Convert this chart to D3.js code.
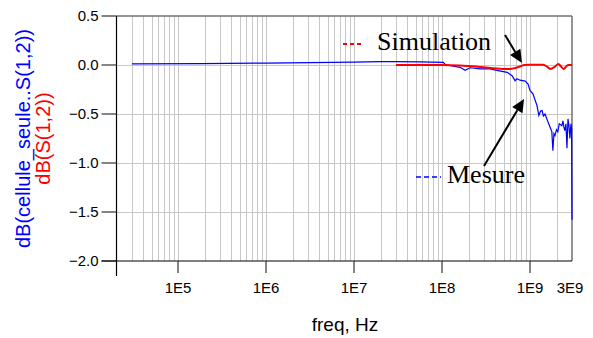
<!DOCTYPE html>
<html>
<head>
<meta charset="utf-8">
<script src="https://cdn.jsdelivr.net/npm/d3@7"></script>
<style>
  body { margin: 0; background: #fff; }
  svg { display: block; }
  .tick-label { font-family: "Liberation Sans", Arial, sans-serif; font-size: 15px; fill: #000; }
  .legend-text { font-family: "Liberation Serif", "Times New Roman", serif; font-size: 26px; fill: #000; }
</style>
</head>
<body>
<div id="chart"></div>
<script>
// measured trace (blue)
let mesureFreq = [3e4, 1.8e5, 1e6, 1e7, 2e7, 3e7, 5.7e7, 1.03e8, 1.1e8, 1.6e8, 1.83e8, 2.09e8,
    2.71e8, 3.52e8, 4.2e8, 5.5e8, 6.25e8, 6.76e8, 7.1e8, 7.7e8, 8.8e8, 9.5e8, 1e9, 1.08e9,
    1.2e9, 1.26e9, 1.32e9, 1.37e9, 1.42e9, 1.48e9, 1.54e9, 1.6e9, 1.7e9, 1.77e9, 1.82e9, 1.87e9,
    1.92e9, 2.0e9, 2.07e9, 2.15e9, 2.3e9, 2.37e9, 2.43e9, 2.49e9, 2.56e9, 2.63e9, 2.7e9,
    2.77e9, 2.84e9, 2.92e9, 2.97e9, 3e9];
let mesureDb = [0.012, 0.015, 0.02, 0.03, 0.034, 0.034, 0.032, 0.027, 0.003, -0.024, -0.054, -0.028,
    -0.04, -0.04, -0.054, -0.075, -0.11, -0.16, -0.14, -0.155, -0.165, -0.195, -0.26, -0.295,
    -0.415, -0.515, -0.47, -0.465, -0.52, -0.5, -0.54, -0.58, -0.64, -0.68, -0.875, -0.7,
    -0.72, -0.66, -0.68, -0.6, -0.62, -0.57, -0.64, -0.67, -0.6, -0.85, -0.55,
    -0.62, -0.75, -0.6, -0.65, -1.58];

// simulated trace (red)
let simFreq = [3e7, 1e8, 1.6e8, 2.7e8, 4.9e8, 5.9e8, 6.8e8, 7.7e8, 8.6e8, 1e9, 1.4e9,
    1.55e9, 1.7e9, 1.9e9, 2.1e9, 2.25e9, 2.4e9, 2.55e9, 2.7e9, 3e9];
let simDb = [0.0, 0.0, -0.006, -0.02, -0.04, -0.04, -0.03, -0.015, 0.0, 0.003, 0.003,
    -0.015, -0.04, -0.02, 0.01, -0.015, -0.04, -0.02, 0.0, 0.0];

let yTicks = [0.5, 0.0, -0.5, -1.0, -1.5, -2.0];
let xTicks = [1e5, 1e6, 1e7, 1e8, 1e9, 3e9];
let xTickLabels = ["1E5", "1E6", "1E7", "1E8", "1E9", "3E9"];

let width = 593, height = 338;
let plotLeft = 116.5, plotRight = 572, plotTop = 16, plotBottom = 261;

let svg = d3.select("#chart").append("svg")
    .attr("width", width)
    .attr("height", height);

let x = d3.scaleLog().domain([2e4, 3e9]).range([plotLeft, plotRight]);
let y = d3.scaleLinear().domain([-2, 0.5]).range([plotBottom, plotTop]);

// minor grid lines 1..9 per decade
let gridX = [];
for (let e = 4; e <= 9; e++) {
    for (let m = 1; m <= 9; m++) {
        let f = m * Math.pow(10, e);
        if (f > 2e4 && f < 3e9) gridX.push(f);
    }
}
svg.append("g").selectAll("line")
    .data(gridX)
    .enter().append("line")
    .attr("x1", d => Math.round(x(d)) + 0.5)
    .attr("x2", d => Math.round(x(d)) + 0.5)
    .attr("y1", plotTop)
    .attr("y2", plotBottom)
    .attr("stroke", "#c8c8c8")
    .attr("stroke-width", 1);

svg.append("g").selectAll("line")
    .data(yTicks.filter(d => d > -2 && d < 0.5))
    .enter().append("line")
    .attr("x1", plotLeft)
    .attr("x2", plotRight)
    .attr("y1", d => Math.round(y(d)) + 0.5)
    .attr("y2", d => Math.round(y(d)) + 0.5)
    .attr("stroke", "#c8c8c8")
    .attr("stroke-width", 1);

// frame: top and right in gray
svg.append("line")
    .attr("x1", plotLeft).attr("x2", plotRight)
    .attr("y1", plotTop).attr("y2", plotTop)
    .attr("stroke", "#707070").attr("stroke-width", 1.5);
svg.append("line")
    .attr("x1", plotRight).attr("x2", plotRight)
    .attr("y1", plotTop).attr("y2", plotBottom)
    .attr("stroke", "#707070").attr("stroke-width", 1.5);

// y axis
svg.append("line")
    .attr("x1", plotLeft).attr("x2", plotLeft)
    .attr("y1", plotTop).attr("y2", plotBottom + 15)
    .attr("stroke", "#000").attr("stroke-width", 1.2);
svg.append("g").selectAll("line")
    .data(yTicks)
    .enter().append("line")
    .attr("x1", plotLeft - 15).attr("x2", plotLeft)
    .attr("y1", d => y(d)).attr("y2", d => y(d))
    .attr("stroke", "#333").attr("stroke-width", 1.2);
svg.append("g").selectAll("text")
    .data(yTicks)
    .enter().append("text")
    .attr("class", "tick-label")
    .attr("x", plotLeft - 18)
    .attr("y", d => y(d))
    .attr("dy", "0.35em")
    .attr("text-anchor", "end")
    .text(d => d3.format(".1f")(d));

// x axis
svg.append("line")
    .attr("x1", plotLeft - 15).attr("x2", plotRight)
    .attr("y1", plotBottom).attr("y2", plotBottom)
    .attr("stroke", "#000").attr("stroke-width", 1.2);
svg.append("g").selectAll("line")
    .data(xTicks.filter(d => d < 3e9))
    .enter().append("line")
    .attr("x1", d => x(d)).attr("x2", d => x(d))
    .attr("y1", plotBottom).attr("y2", plotBottom + 12)
    .attr("stroke", "#333").attr("stroke-width", 1.2);
svg.append("g").selectAll("text")
    .data(xTicks)
    .enter().append("text")
    .attr("class", "tick-label")
    .attr("x", (d, i) => i === xTicks.length - 1 ? x(d) - 2 : x(d))
    .attr("y", 293)
    .attr("text-anchor", "middle")
    .text((d, i) => xTickLabels[i]);

svg.append("text")
    .attr("x", 345)
    .attr("y", 331)
    .attr("text-anchor", "middle")
    .style("font-family", "'Liberation Sans', Arial, sans-serif")
    .style("font-size", "19px")
    .text("freq, Hz");

// y axis titles
let cy = (plotTop + plotBottom) / 2;
svg.append("text")
    .attr("transform", "translate(30," + cy + ") rotate(-90)")
    .attr("text-anchor", "middle")
    .style("font-family", "'Liberation Sans', Arial, sans-serif")
    .style("font-size", "20px")
    .attr("fill", "#0000ff")
    .text("dB(cellule_seule..S(1,2))");
svg.append("text")
    .attr("transform", "translate(50," + cy + ") rotate(-90)")
    .attr("text-anchor", "middle")
    .style("font-family", "'Liberation Sans', Arial, sans-serif")
    .style("font-size", "20px")
    .attr("fill", "#ff0000")
    .text("dB(S(1,2))");

// traces
let line = d3.line()
    .x(d => x(d[0]))
    .y(d => y(d[1]));

svg.append("path")
    .datum(d3.zip(mesureFreq, mesureDb))
    .attr("fill", "none")
    .attr("stroke", "#0000ff")
    .attr("stroke-width", 1.2)
    .attr("d", line);

svg.append("path")
    .datum(d3.zip(simFreq, simDb))
    .attr("fill", "none")
    .attr("stroke", "#ff0000")
    .attr("stroke-width", 2)
    .attr("d", line.curve(d3.curveMonotoneX));

// legend / annotations
svg.append("line")
    .attr("x1", 343).attr("x2", 361)
    .attr("y1", 44).attr("y2", 44)
    .attr("stroke", "#ff0000").attr("stroke-width", 2)
    .attr("stroke-dasharray", "4,3");
svg.append("text")
    .attr("class", "legend-text")
    .attr("x", 377).attr("y", 50)
    .text("Simulation");

svg.append("line")
    .attr("x1", 416).attr("x2", 441)
    .attr("y1", 177).attr("y2", 177)
    .attr("stroke", "#0000ff").attr("stroke-width", 1.5)
    .attr("stroke-dasharray", "5,3");
svg.append("text")
    .attr("class", "legend-text")
    .attr("x", 447).attr("y", 183)
    .text("Mesure");

function arrow(x1, y1, x2, y2) {
    let ang = Math.atan2(y2 - y1, x2 - x1);
    let len = 13, half = 6;
    let bx = x2 - len * Math.cos(ang), by = y2 - len * Math.sin(ang);
    svg.append("line")
        .attr("x1", x1).attr("y1", y1)
        .attr("x2", bx).attr("y2", by)
        .attr("stroke", "#000").attr("stroke-width", 2);
    svg.append("path")
        .attr("d", "M" + x2 + "," + y2 +
            "L" + (bx + half * Math.sin(ang)) + "," + (by - half * Math.cos(ang)) +
            "L" + (bx - half * Math.sin(ang)) + "," + (by + half * Math.cos(ang)) + "Z")
        .attr("fill", "#000");
}
arrow(x(5.2e8), y(0.306), x(8.1e8), y(0.02));
arrow(x(3e8), y(-1.03), x(8.55e8), y(-0.347));
</script>
</body>
</html>
